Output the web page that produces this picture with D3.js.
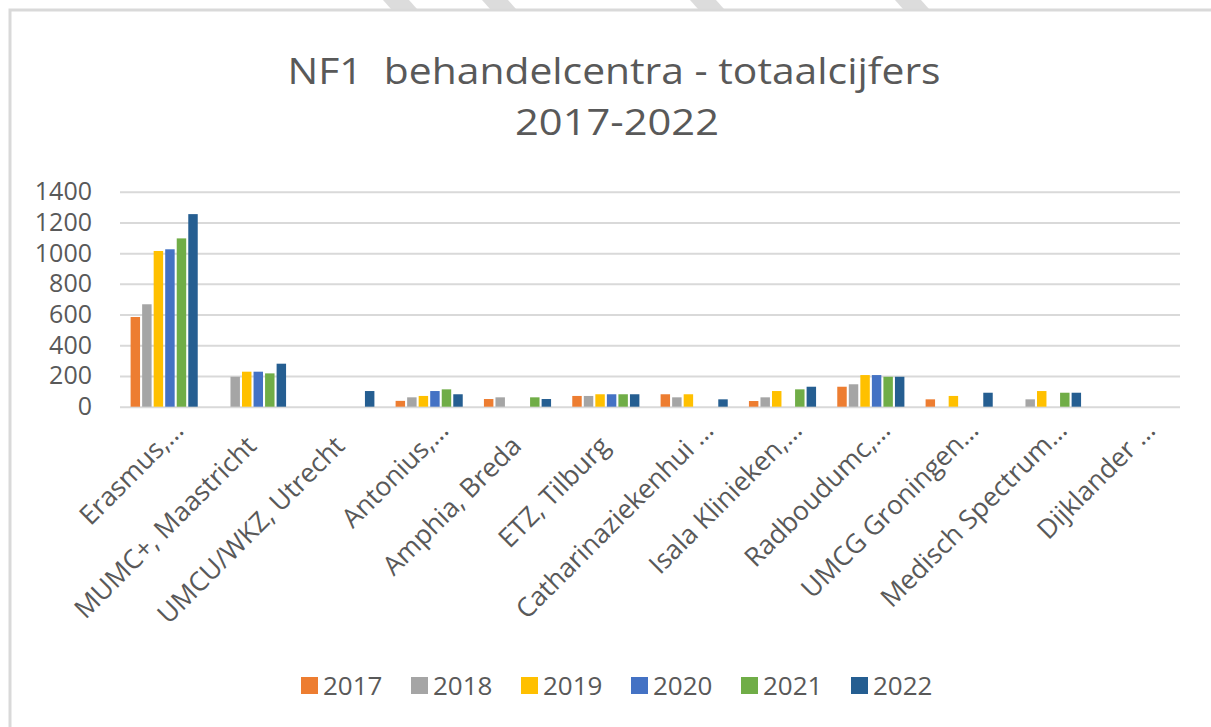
<!DOCTYPE html>
<html>
<head>
<meta charset="utf-8">
<script src="https://cdn.jsdelivr.net/npm/d3@7"></script>
<style>
  body { margin: 0; background: #fff; }
  svg text { font-family: "Open Sans", sans-serif; fill: #595959; }
</style>
</head>
<body>
<script>
// data
const categories = ["Erasmus,…", "MUMC+, Maastricht", "UMCU/WKZ, Utrecht", "Antonius,…",
    "Amphia, Breda", "ETZ, Tilburg", "Catharinaziekenhui …", "Isala Klinieken,…",
    "Radboudumc,…", "UMCG Groningen…", "Medisch Spectrum…", "Dijklander …"];
const years = ["2017", "2018", "2019", "2020", "2021", "2022"];
const v2017 = [584, null, null, 38, 50, 70, 81, 37, 130, 48, null, null];
const v2018 = [667, 195, null, 61, 61, 70, 61, 61, 146, null, 48, null];
const v2019 = [1014, 228, null, 70, null, 81, 81, 102, 206, 70, 102, null];
const v2020 = [1025, 228, null, 102, null, 81, null, null, 206, null, null, null];
const v2021 = [1096, 217, null, 113, 61, 81, null, 113, 195, null, 91, null];
const v2022 = [1254, 280, 102, 81, 50, 81, 48, 130, 195, 91, 91, null];
const yTicks = [0, 200, 400, 600, 800, 1000, 1200, 1400];

const series = [v2017, v2018, v2019, v2020, v2021, v2022];
const colors = ["#ED7D31", "#A5A5A5", "#FFC000", "#4472C4", "#70AD47", "#255E91"];

const W = 1211, H = 727;
const plot = { left: 120, right: 1180, top: 191.7, bottom: 406.7 };

const svg = d3.select("body")
    .append("svg")
    .attr("width", W)
    .attr("height", H);

// frame + the grey stripes peeking above it
svg.append("g")
    .selectAll("path")
    .data([383, 482, 690, 895])
    .join("path")
    .attr("d", d => `M${d},0 L${d + 26},0 L${d + 34},9 L${d + 8},9 Z`)
    .attr("fill", "#dcdcdc");

svg.append("path")
    .attr("d", `M10,${H} L10,10 L${W},10`)
    .attr("fill", "none")
    .attr("stroke", "#d9d9d9")
    .attr("stroke-width", 3);

// title
svg.append("text")
    .attr("x", 614)
    .attr("y", 84)
    .attr("text-anchor", "middle")
    .attr("textLength", 653)
    .attr("lengthAdjust", "spacingAndGlyphs")
    .style("font-size", "37px")
    .style("white-space", "pre")
    .text("NF1  behandelcentra - totaalcijfers");

svg.append("text")
    .attr("x", 617)
    .attr("y", 135)
    .attr("text-anchor", "middle")
    .attr("textLength", 204)
    .attr("lengthAdjust", "spacingAndGlyphs")
    .style("font-size", "37px")
    .text("2017-2022");

// scales
const x0 = d3.scaleBand()
    .domain(categories)
    .range([plot.left, plot.right])
    .paddingInner(0.24)
    .paddingOuter(0.12);

const x1 = d3.scaleBand()
    .domain(years)
    .range([0, x0.bandwidth()])
    .paddingInner(0.18);

const y = d3.scaleLinear()
    .domain([0, 1400])
    .range([plot.bottom, plot.top]);

// gridlines
const grid = svg.append("g")
    .attr("transform", `translate(${plot.left},0)`)
    .call(d3.axisLeft(y).tickValues(yTicks).tickSize(-(plot.right - plot.left)).tickFormat(""));
grid.select(".domain").remove();
grid.selectAll("line").attr("stroke", "#d9d9d9").attr("stroke-width", 2);

// y labels
const yAxis = svg.append("g")
    .attr("transform", `translate(${plot.left},0)`)
    .call(d3.axisLeft(y).tickValues(yTicks).tickSize(0).tickPadding(28).tickFormat(d3.format("d")));
yAxis.select(".domain").remove();
yAxis.selectAll("text")
    .attr("fill", "#595959")
    .style("font-family", "'Open Sans', sans-serif")
    .style("font-size", "25px");

// bars
const groups = svg.append("g")
    .selectAll("g")
    .data(categories)
    .join("g")
    .attr("transform", d => `translate(${x0(d)},0)`);

groups.selectAll("rect")
    .data((d, ci) => years.map((yr, si) => ({ yr, si, v: series[si][ci] })).filter(e => e.v != null))
    .join("rect")
    .attr("x", d => x1(d.yr))
    .attr("width", x1.bandwidth())
    .attr("y", d => y(d.v))
    .attr("height", d => y(0) - y(d.v))
    .attr("fill", d => colors[d.si]);

// category labels, rotated
svg.append("g")
    .selectAll("text")
    .data(categories)
    .join("text")
    .attr("transform", d => `translate(${x0(d) + x0.bandwidth() / 2 + 21},432) rotate(-45)`)
    .attr("dx", d => d.endsWith("…") ? 0 : -22)
    .attr("text-anchor", "end")
    .style("font-size", "26.5px")
    .text(d => d);

// legend
const legend = svg.append("g")
    .selectAll("g")
    .data(years)
    .join("g")
    .attr("transform", (d, i) => `translate(${301 + i * 110},677)`);

legend.append("rect")
    .attr("width", 17)
    .attr("height", 17)
    .attr("fill", (d, i) => colors[i]);

legend.append("text")
    .attr("x", 22)
    .attr("y", 8.5)
    .attr("dy", "0.36em")
    .style("font-size", "26px")
    .text(d => d);
</script>
</body>
</html>
